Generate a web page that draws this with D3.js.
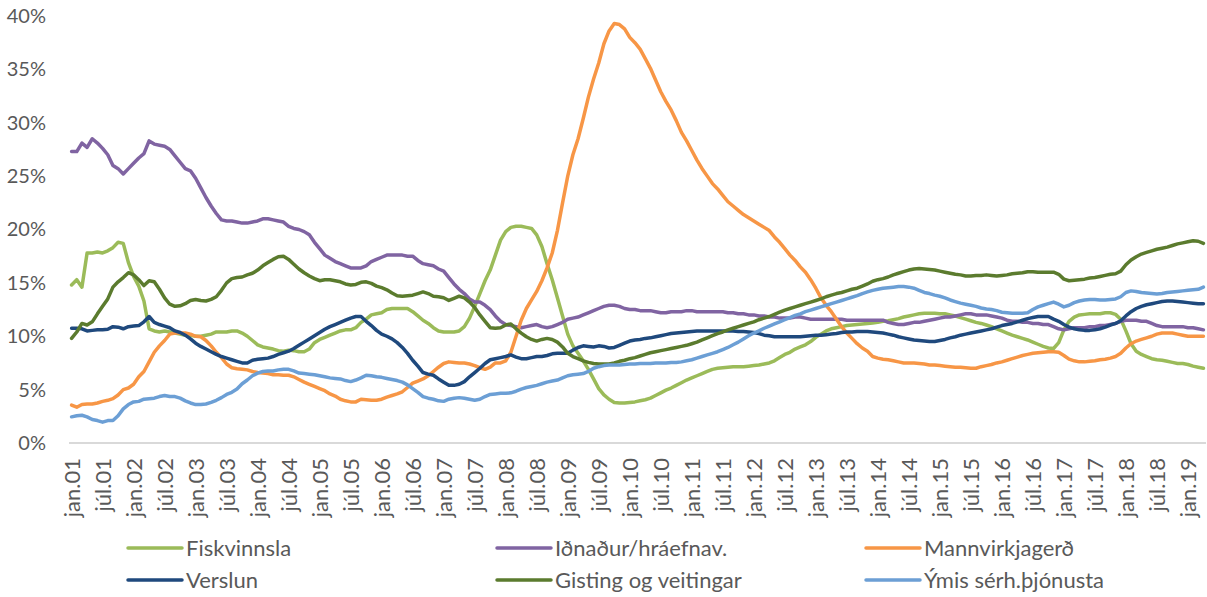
<!DOCTYPE html>
<html>
<head>
<meta charset="utf-8">
<script src="https://cdn.jsdelivr.net/npm/d3@7/dist/d3.min.js"></script>
<style>
  html, body { margin: 0; padding: 0; background: #ffffff; }
  svg { display: block; }
</style>
</head>
<body>
<svg id="chart" width="1207" height="597"></svg>
<script>
// ---- Data (monthly shares, %, jan.01 – apr.19) ----
const seriesNames = ["Fiskvinnsla", "Iðnaður/hráefnav.", "Mannvirkjagerð", "Verslun", "Gisting og veitingar", "Ýmis sérh.þjónusta"];
const seriesColors = ["#9BBB59", "#8064A2", "#F79646", "#1F497D", "#5B7B2E", "#6C9FD5"];

const fiskvinnsla = [
14.8,15.3,14.6,17.8,17.8,17.9,17.8,18.0,18.3,18.8,
18.7,16.9,15.6,14.7,13.3,10.7,10.5,10.4,10.5,10.4,
10.3,10.2,10.1,10.1,10.0,10.0,10.1,10.2,10.4,10.4,
10.4,10.5,10.5,10.3,10.0,9.6,9.2,9.0,8.9,8.8,
8.65,8.6,8.7,8.65,8.55,8.55,8.8,9.4,9.7,9.9,
10.1,10.3,10.5,10.6,10.6,10.8,11.3,11.6,12.0,12.1,
12.2,12.5,12.6,12.6,12.6,12.6,12.3,11.9,11.5,11.2,
10.8,10.5,10.4,10.4,10.4,10.5,10.9,11.7,12.8,14.0,
15.2,16.2,17.6,19.0,19.8,20.2,20.3,20.3,20.2,20.1,
19.5,18.4,16.8,15.3,13.6,11.9,10.2,9.1,8.4,7.7,
6.9,6.0,5.1,4.5,4.1,3.8,3.75,3.75,3.8,3.85,
3.95,4.05,4.2,4.45,4.7,4.95,5.15,5.4,5.65,5.9,
6.1,6.3,6.5,6.7,6.9,7.0,7.05,7.1,7.15,7.15,
7.15,7.2,7.25,7.3,7.4,7.5,7.7,8.0,8.3,8.5,
8.8,9.0,9.2,9.5,9.9,10.2,10.5,10.7,10.8,10.9,
11.0,11.05,11.1,11.15,11.2,11.25,11.3,11.4,11.45,11.55,
11.65,11.8,11.9,12.0,12.1,12.15,12.15,12.15,12.1,12.1,
12.0,11.9,11.75,11.6,11.45,11.3,11.2,11.05,10.9,10.7,
10.5,10.3,10.1,9.95,9.8,9.65,9.45,9.25,9.05,8.9,
8.85,9.4,10.6,11.4,11.8,12.0,12.05,12.1,12.1,12.1,
12.2,12.2,12.05,11.6,10.5,9.3,8.6,8.3,8.1,7.9,
7.8,7.75,7.65,7.55,7.45,7.45,7.35,7.2,7.1,7.0];

const idnadur = [
27.3,27.3,28.1,27.7,28.5,28.1,27.6,27.0,26.0,25.7,
25.2,25.7,26.2,26.7,27.1,28.3,28.0,27.9,27.8,27.5,
26.9,26.3,25.7,25.5,24.8,23.9,23.0,22.2,21.5,20.9,
20.8,20.8,20.7,20.6,20.6,20.7,20.8,21.0,21.0,20.9,
20.8,20.7,20.3,20.1,20.0,19.8,19.5,18.8,18.2,17.6,
17.3,17.0,16.8,16.6,16.4,16.4,16.4,16.6,17.0,17.2,
17.4,17.6,17.6,17.6,17.6,17.5,17.5,17.1,16.8,16.7,
16.6,16.3,16.1,15.5,14.9,14.4,14.0,13.5,13.2,13.2,
12.9,12.5,11.9,11.4,11.1,11.0,10.9,10.8,10.9,11.0,
11.1,10.9,10.8,10.9,11.1,11.3,11.6,11.7,11.8,12.0,
12.2,12.4,12.6,12.8,12.9,12.9,12.8,12.6,12.5,12.5,
12.4,12.4,12.4,12.3,12.2,12.2,12.3,12.3,12.3,12.4,
12.4,12.3,12.3,12.3,12.3,12.3,12.3,12.2,12.2,12.1,
12.1,12.0,12.0,11.9,11.9,11.8,11.8,11.7,11.7,11.7,
11.8,11.8,11.7,11.6,11.6,11.6,11.6,11.6,11.6,11.6,
11.5,11.5,11.5,11.5,11.5,11.5,11.5,11.5,11.3,11.2,
11.1,11.1,11.2,11.3,11.3,11.4,11.5,11.6,11.7,11.8,
11.8,11.9,12.0,12.1,12.1,12.0,12.0,12.0,11.9,11.8,
11.7,11.5,11.4,11.4,11.3,11.3,11.2,11.2,11.1,11.1,
10.9,10.7,10.6,10.7,10.8,10.8,10.8,10.9,10.9,11.0,
11.0,11.1,11.2,11.4,11.5,11.5,11.5,11.4,11.4,11.2,
11.0,10.9,10.9,10.9,10.9,10.9,10.8,10.8,10.7,10.6];

const mannvirkjagerd = [
3.55,3.35,3.6,3.65,3.65,3.75,3.9,4.0,4.15,4.5,
5.0,5.15,5.5,6.2,6.7,7.6,8.5,9.1,9.6,10.2,
10.3,10.3,10.3,10.2,10.0,9.95,9.6,9.1,8.5,8.0,
7.4,7.05,6.95,6.9,6.85,6.7,6.6,6.55,6.5,6.4,
6.4,6.35,6.35,6.2,5.95,5.7,5.5,5.3,5.1,4.9,
4.6,4.4,4.1,3.95,3.85,3.85,4.1,4.05,4.0,4.0,
4.1,4.3,4.45,4.6,4.8,5.2,5.6,5.8,6.0,6.3,
6.7,7.1,7.45,7.6,7.55,7.5,7.5,7.4,7.25,7.05,
6.9,7.1,7.5,7.5,7.7,8.5,10.0,11.5,12.6,13.4,
14.2,15.2,16.4,17.8,19.9,22.5,25.0,27.0,28.5,30.4,
32.4,34.1,35.6,37.4,38.6,39.3,39.2,38.8,38.0,37.5,
36.9,36.0,35.1,34.0,32.9,32.0,31.2,30.2,29.1,28.3,
27.4,26.5,25.7,25.0,24.3,23.8,23.2,22.6,22.2,21.8,
21.4,21.1,20.8,20.5,20.2,19.9,19.3,18.8,18.2,17.6,
17.1,16.5,16.0,15.3,14.5,13.6,12.9,12.3,11.6,10.9,
10.3,9.8,9.3,8.9,8.6,8.1,7.95,7.85,7.8,7.7,
7.6,7.5,7.5,7.5,7.45,7.4,7.3,7.3,7.25,7.2,
7.15,7.1,7.1,7.05,7.0,7.0,7.15,7.25,7.35,7.5,
7.6,7.75,7.9,8.05,8.2,8.3,8.4,8.45,8.5,8.55,
8.55,8.5,8.2,7.85,7.7,7.6,7.6,7.65,7.7,7.8,
7.85,7.95,8.1,8.4,8.9,9.3,9.55,9.7,9.85,10.0,
10.2,10.3,10.3,10.3,10.2,10.1,10.0,10.0,10.0,10.0];

const verslun = [
10.75,10.75,10.7,10.5,10.55,10.6,10.6,10.65,10.9,10.85,
10.7,10.9,10.95,11.0,11.35,11.85,11.3,11.1,10.95,10.8,
10.5,10.35,10.1,9.75,9.35,9.05,8.8,8.55,8.3,8.1,
7.95,7.8,7.65,7.5,7.5,7.75,7.85,7.9,7.95,8.1,
8.3,8.45,8.6,8.85,9.15,9.45,9.75,10.05,10.35,10.65,
10.9,11.1,11.3,11.5,11.7,11.85,11.85,11.4,11.0,10.55,
10.2,10.0,9.75,9.4,8.95,8.4,7.75,7.2,6.6,6.45,
6.35,6.0,5.7,5.4,5.4,5.5,5.75,6.2,6.6,7.0,
7.45,7.8,7.9,8.0,8.1,8.25,8.05,7.9,7.9,8.0,
8.1,8.1,8.2,8.35,8.4,8.4,8.4,8.7,8.95,9.1,
9.05,9.0,9.1,9.05,8.9,8.95,9.15,9.35,9.55,9.65,
9.7,9.8,9.85,9.95,10.05,10.15,10.25,10.3,10.35,10.4,
10.45,10.5,10.5,10.5,10.5,10.5,10.5,10.5,10.5,10.45,
10.45,10.4,10.35,10.25,10.1,10.05,9.95,9.95,9.95,9.95,
9.95,9.95,10.0,10.05,10.1,10.1,10.15,10.2,10.25,10.35,
10.4,10.4,10.45,10.45,10.45,10.4,10.35,10.3,10.2,10.1,
9.95,9.85,9.75,9.65,9.6,9.55,9.5,9.5,9.6,9.7,
9.85,9.95,10.1,10.2,10.3,10.4,10.5,10.6,10.7,10.85,
11.0,11.1,11.2,11.35,11.5,11.65,11.75,11.85,11.85,11.85,
11.6,11.4,11.1,10.85,10.7,10.6,10.55,10.55,10.6,10.7,
10.85,11.05,11.2,11.45,11.9,12.3,12.6,12.8,12.95,13.05,
13.15,13.25,13.3,13.3,13.25,13.2,13.15,13.1,13.05,13.05];

const gisting = [
9.8,10.4,11.2,11.05,11.35,12.1,12.8,13.5,14.6,15.1,
15.5,15.95,15.75,15.3,14.75,15.2,15.1,14.4,13.6,13.0,
12.8,12.85,13.05,13.35,13.45,13.35,13.3,13.45,13.7,14.3,
15.0,15.4,15.5,15.55,15.75,15.9,16.2,16.6,16.9,17.2,
17.45,17.5,17.2,16.75,16.3,15.95,15.65,15.4,15.2,15.3,
15.3,15.2,15.1,14.9,14.8,14.85,15.05,15.1,14.95,14.7,
14.55,14.35,14.05,13.8,13.75,13.8,13.85,14.0,14.15,14.0,
13.75,13.7,13.6,13.35,13.55,13.75,13.6,13.2,12.7,12.0,
11.4,10.8,10.75,10.8,11.05,11.15,10.7,10.3,9.95,9.7,
9.55,9.7,9.8,9.7,9.45,9.0,8.4,8.1,7.9,7.7,
7.55,7.45,7.4,7.4,7.4,7.5,7.65,7.75,7.9,8.0,
8.15,8.3,8.45,8.55,8.65,8.75,8.85,8.95,9.05,9.15,
9.3,9.45,9.65,9.85,10.05,10.25,10.4,10.6,10.75,10.9,
11.05,11.2,11.35,11.55,11.7,11.85,12.05,12.25,12.45,12.6,
12.75,12.9,13.05,13.2,13.35,13.5,13.7,13.85,14.0,14.1,
14.25,14.4,14.5,14.7,14.9,15.15,15.3,15.4,15.55,15.75,
15.9,16.05,16.2,16.3,16.35,16.3,16.25,16.2,16.1,16.0,
15.9,15.8,15.75,15.65,15.65,15.7,15.7,15.75,15.7,15.65,
15.7,15.75,15.85,15.9,15.95,16.05,16.05,16.0,16.0,16.0,
16.0,15.8,15.35,15.2,15.25,15.3,15.35,15.45,15.5,15.6,
15.7,15.8,15.85,16.1,16.7,17.15,17.45,17.7,17.85,18.0,
18.15,18.25,18.35,18.5,18.65,18.75,18.85,18.95,18.9,18.7];

const ymis = [
2.45,2.55,2.6,2.45,2.2,2.1,1.95,2.1,2.1,2.55,
3.2,3.6,3.85,3.9,4.1,4.15,4.2,4.35,4.45,4.35,
4.35,4.2,3.95,3.75,3.6,3.6,3.65,3.8,4.0,4.25,
4.55,4.75,5.05,5.55,5.9,6.3,6.55,6.7,6.75,6.75,
6.85,6.9,6.9,6.75,6.55,6.5,6.45,6.4,6.3,6.2,
6.1,6.05,6.0,5.85,5.75,5.9,6.1,6.35,6.3,6.2,
6.15,6.05,5.95,5.85,5.7,5.45,5.1,4.75,4.35,4.2,
4.1,3.95,3.9,4.1,4.2,4.25,4.2,4.1,4.0,4.1,
4.35,4.55,4.6,4.65,4.65,4.7,4.85,5.05,5.2,5.3,
5.4,5.55,5.7,5.8,5.9,6.1,6.3,6.4,6.45,6.5,
6.7,7.0,7.15,7.25,7.3,7.3,7.3,7.35,7.4,7.4,
7.45,7.45,7.45,7.5,7.5,7.5,7.55,7.55,7.6,7.7,
7.8,7.95,8.1,8.25,8.4,8.55,8.75,8.95,9.2,9.45,
9.75,10.05,10.3,10.5,10.75,10.95,11.15,11.35,11.55,11.75,
11.95,12.1,12.3,12.45,12.6,12.75,12.9,13.05,13.2,13.35,
13.5,13.65,13.8,14.0,14.15,14.3,14.4,14.5,14.55,14.6,
14.65,14.65,14.6,14.5,14.3,14.1,14.0,13.85,13.75,13.6,
13.4,13.25,13.1,13.0,12.9,12.8,12.65,12.55,12.5,12.4,
12.25,12.2,12.15,12.15,12.15,12.2,12.5,12.75,12.9,13.05,
13.2,13.0,12.75,12.9,13.15,13.3,13.4,13.45,13.45,13.4,
13.4,13.45,13.5,13.7,14.1,14.25,14.2,14.1,14.05,14.0,
13.95,14.0,14.1,14.15,14.2,14.25,14.3,14.35,14.4,14.6];

const tickLabels = ["jan.01","júl.01","jan.02","júl.02","jan.03","júl.03","jan.04","júl.04",
  "jan.05","júl.05","jan.06","júl.06","jan.07","júl.07","jan.08","júl.08","jan.09","júl.09",
  "jan.10","júl.10","jan.11","júl.11","jan.12","júl.12","jan.13","júl.13","jan.14","júl.14",
  "jan.15","júl.15","jan.16","júl.16","jan.17","júl.17","jan.18","júl.18","jan.19"];
const yTicks = [0, 5, 10, 15, 20, 25, 30, 35, 40];

// ---- Build ----
const series = [fiskvinnsla, idnadur, mannvirkjagerd, verslun, gisting, ymis];
const nMonths = fiskvinnsla.length;
const months = d3.range(nMonths);

const svg = d3.select("#chart");
const FONT = "Lato, 'Open Sans', sans-serif";
const TXT = "#595959";

const plot = { left: 69, right: 1206, top: 16, bottom: 443 };

const x = d3.scalePoint().domain(months).range([plot.left, plot.right]).padding(0.5);
const y = d3.scaleLinear().domain([0, 40]).range([plot.bottom, plot.top]);

// Y axis labels
const yAxis = svg.append("g")
  .attr("transform", `translate(${plot.left},0)`)
  .call(d3.axisLeft(y).tickValues(yTicks).tickSize(0).tickPadding(23).tickFormat(d => d + "%"));
yAxis.select(".domain").remove();
yAxis.selectAll("text")
  .attr("font-family", FONT).attr("font-size", 20).attr("fill", TXT);

// X axis line
svg.append("line")
  .attr("x1", plot.left).attr("x2", plot.right)
  .attr("y1", y(0)).attr("y2", y(0))
  .attr("stroke", "#D9D9D9").attr("stroke-width", 2);

// X axis labels
const tickIdx = months.filter(m => m % 6 === 0);
const xAxis = svg.append("g")
  .attr("transform", `translate(0,${y(0)})`)
  .call(d3.axisBottom(x).tickValues(tickIdx).tickSize(0).tickFormat(m => tickLabels[m / 6]));
xAxis.select(".domain").remove();
xAxis.selectAll("text")
  .attr("font-family", FONT).attr("font-size", 22).attr("fill", TXT)
  .attr("transform", "rotate(-90)")
  .attr("text-anchor", "end")
  .attr("x", -15).attr("y", 0).attr("dy", "0.35em");

// Lines
const line = d3.line().x((d, i) => x(i)).y(d => y(d));
svg.append("g").selectAll("path")
  .data(series)
  .join("path")
  .attr("d", d => line(d))
  .attr("fill", "none")
  .attr("stroke", (d, i) => seriesColors[i])
  .attr("stroke-width", 3.5)
  .attr("stroke-linejoin", "round")
  .attr("stroke-linecap", "round");

// Legend
const legCols = [128, 497, 866];
const legRows = [548, 580];
const leg = svg.append("g");
seriesNames.forEach((name, i) => {
  const cx = legCols[i % 3], cy = legRows[Math.floor(i / 3)];
  leg.append("line")
    .attr("x1", cx).attr("x2", cx + 54).attr("y1", cy).attr("y2", cy)
    .attr("stroke", seriesColors[i]).attr("stroke-width", 3.5).attr("stroke-linecap", "round");
  leg.append("text")
    .attr("x", cx + 58).attr("y", cy).attr("dy", "0.35em")
    .attr("font-family", FONT).attr("font-size", 22).attr("fill", TXT)
    .text(name);
});
</script>
</body>
</html>
